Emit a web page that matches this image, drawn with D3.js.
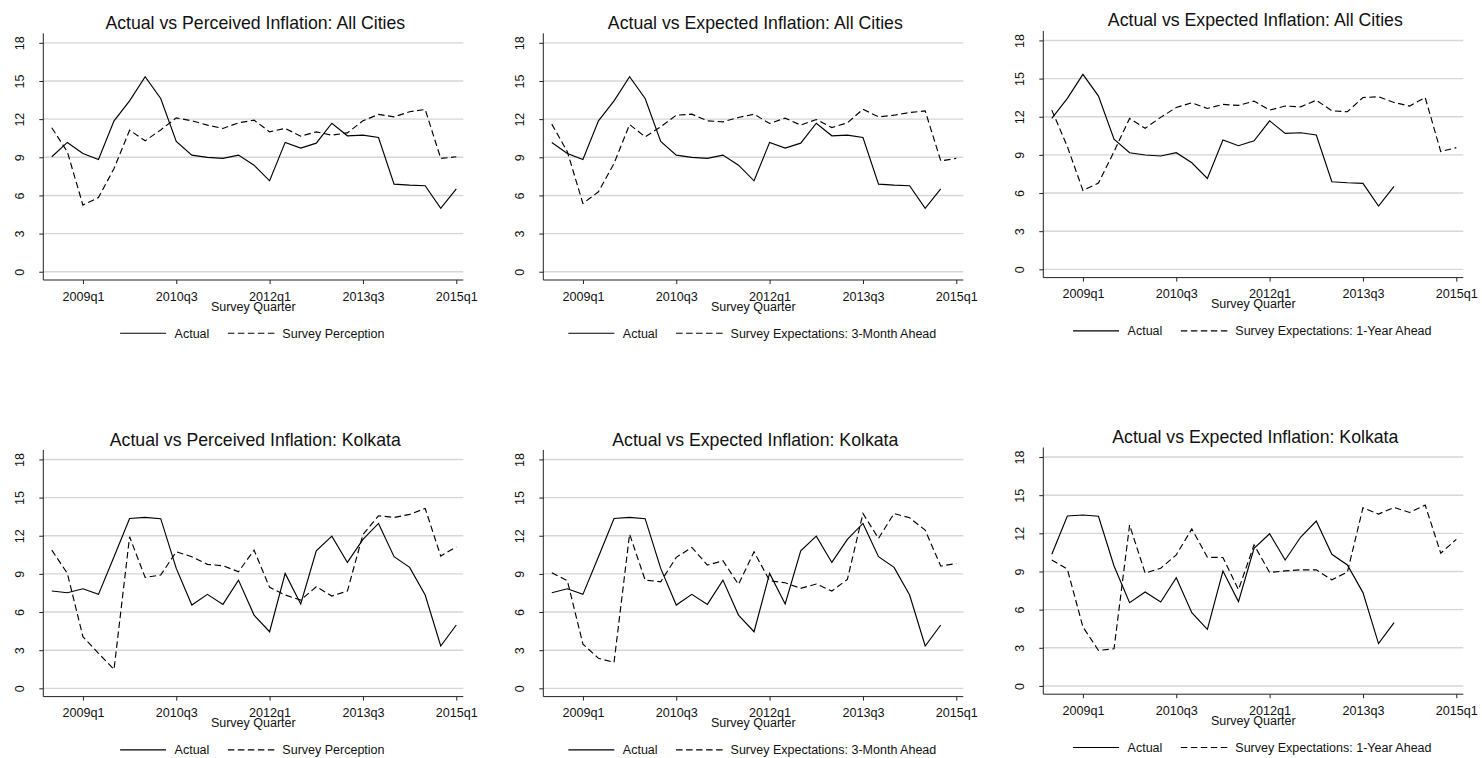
<!DOCTYPE html>
<html>
<head>
<meta charset="utf-8">
<script src="https://cdn.jsdelivr.net/npm/d3@7"></script>
<style>
  body { margin: 0; background: #fff; }
  svg { display: block; }
  text { font-family: "Liberation Sans", Arial, sans-serif; fill: #111; }
</style>
</head>
<body>
<script>
// quarters 2008q3 .. 2015q1
const quarters = ["2008q3","2008q4","2009q1","2009q2","2009q3","2009q4","2010q1","2010q2","2010q3","2010q4",
  "2011q1","2011q2","2011q3","2011q4","2012q1","2012q2","2012q3","2012q4","2013q1","2013q2",
  "2013q3","2013q4","2014q1","2014q2","2014q3","2014q4","2015q1"];
const tickLabels = ["2009q1", "2010q3", "2012q1", "2013q3", "2015q1"];
const yTicks = [0, 3, 6, 9, 12, 15, 18];

// all cities
const actualAll = [9.04, 10.17, 9.30, 8.83, 11.87, 13.44, 15.33, 13.62, 10.24, 9.17, 8.99, 8.91, 9.17, 8.38,
  7.15, 10.17, 9.72, 10.11, 11.68, 10.69, 10.74, 10.56, 6.89, 6.81, 6.76, 4.98, 6.52];
const perceivedAll = [11.32, 9.43, 5.24, 5.84, 8.12, 11.13, 10.30, 11.15, 12.10, 11.87, 11.53, 11.27, 11.71, 11.92,
  11.00, 11.27, 10.66, 11.00, 10.74, 10.92, 11.87, 12.37, 12.18, 12.58, 12.76, 8.91, 9.04];
const expect3mAll = [11.61, 9.43, 5.37, 6.29, 8.51, 11.58, 10.61, 11.40, 12.31, 12.39, 11.87, 11.79, 12.13, 12.39,
  11.66, 12.08, 11.53, 11.97, 11.34, 11.71, 12.78, 12.18, 12.31, 12.52, 12.65, 8.72, 8.91];
const expect1yAll = [12.52, 9.65, 6.21, 6.78, 9.26, 11.87, 11.09, 11.95, 12.73, 13.10, 12.65, 12.97, 12.89, 13.23,
  12.52, 12.84, 12.78, 13.30, 12.47, 12.39, 13.51, 13.57, 13.12, 12.84, 13.51, 9.26, 9.57];

// kolkata
const actualKol = [7.65, 7.52, 7.83, 7.39, 10.35, 13.36, 13.44, 13.34, 9.43, 6.55, 7.39, 6.60, 8.51, 5.76,
  4.45, 9.04, 6.63, 10.82, 11.97, 9.90, 11.71, 12.97, 10.35, 9.51, 7.34, 3.33, 4.98];
const perceivedKol = [10.87, 9.04, 4.06, 2.75, 1.49, 11.92, 8.72, 8.91, 10.74, 10.35, 9.75, 9.64, 9.17, 10.87,
  7.94, 7.34, 6.94, 7.99, 7.26, 7.65, 12.10, 13.57, 13.44, 13.68, 14.15, 10.40, 11.13];
const expect3mKol = [9.09, 8.46, 3.48, 2.36, 2.04, 12.13, 8.51, 8.38, 10.30, 11.08, 9.69, 10.03, 8.17, 10.74,
  8.46, 8.30, 7.86, 8.20, 7.65, 8.57, 13.75, 11.79, 13.75, 13.41, 12.44, 9.61, 9.82];
const expect1yKol = [9.91, 9.18, 4.64, 2.79, 2.92, 12.65, 8.87, 9.26, 10.31, 12.34, 10.12, 10.10, 7.57, 11.09,
  8.92, 9.05, 9.13, 9.13, 8.35, 8.95, 14.01, 13.51, 14.04, 13.64, 14.22, 10.44, 11.53];

// actual is plotted against the survey quarter, lead = how many quarters ahead the survey looks
const panels = [
  { title: "Actual vs Perceived Inflation: All Cities", actual: actualAll, lead: 0, survey: perceivedAll, label: "Survey Perception" },
  { title: "Actual vs Expected Inflation: All Cities", actual: actualAll, lead: 1, survey: expect3mAll, label: "Survey Expectations: 3-Month Ahead" },
  { title: "Actual vs Expected Inflation: All Cities", actual: actualAll, lead: 4, survey: expect1yAll, label: "Survey Expectations: 1-Year Ahead" },
  { title: "Actual vs Perceived Inflation: Kolkata", actual: actualKol, lead: 0, survey: perceivedKol, label: "Survey Perception" },
  { title: "Actual vs Expected Inflation: Kolkata", actual: actualKol, lead: 1, survey: expect3mKol, label: "Survey Expectations: 3-Month Ahead" },
  { title: "Actual vs Expected Inflation: Kolkata", actual: actualKol, lead: 4, survey: expect1yKol, label: "Survey Expectations: 1-Year Ahead" }
];

const W = 1482, H = 758;
const svg = d3.select("body").append("svg").attr("width", W).attr("height", H);

const plotW = 420;
const dash = "6.5,3.5";

panels.forEach((p, i) => {
  const col = i % 3, row = Math.floor(i / 3);
  const L = 43.3 + col * 500;
  const dy = row * 416.6 + (col === 2 ? -2.4 : 0);
  const bottom = 280 + dy, top = 33.3 + dy;

  const g = svg.append("g");

  const x = d3.scalePoint().domain(quarters).range([L + 8.5, L + 413.0]);
  const y = d3.scaleLinear().domain([-0.65, 18.75]).range([bottom, top]);

  // gridlines
  g.append("g").selectAll("line").data(yTicks).join("line")
    .attr("x1", L).attr("x2", L + plotW)
    .attr("y1", d => y(d)).attr("y2", d => y(d))
    .attr("stroke", "#d6d6d6").attr("stroke-width", 1.4);

  // y axis
  const ya = g.append("g").attr("transform", `translate(${L},0)`)
    .call(d3.axisLeft(y).tickValues(yTicks).tickSize(4).tickSizeOuter(0));
  ya.select(".domain").remove();
  ya.selectAll(".tick line").attr("stroke", "#222");
  ya.selectAll(".tick text")
    .attr("x", 0).attr("dy", 0).attr("y", 0)
    .attr("text-anchor", "middle")
    .attr("transform", "translate(-19,0) rotate(-90)")
    .style("font-size", "12.5px");
  g.append("line").attr("x1", L).attr("x2", L).attr("y1", top).attr("y2", bottom)
    .attr("stroke", "#222").attr("stroke-width", 1);

  // x axis
  const xa = g.append("g").attr("transform", `translate(0,${bottom})`)
    .call(d3.axisBottom(x).tickValues(tickLabels).tickSize(4).tickSizeOuter(0));
  xa.select(".domain").remove();
  xa.selectAll(".tick line").attr("stroke", "#222");
  xa.selectAll(".tick text").attr("dy", 0).attr("y", 20.5).style("font-size", "12.6px");
  g.append("line").attr("x1", L).attr("x2", L + plotW).attr("y1", bottom).attr("y2", bottom)
    .attr("stroke", "#222").attr("stroke-width", 1);

  g.append("text").attr("x", L + plotW / 2).attr("y", bottom + 30.5)
    .attr("text-anchor", "middle").style("font-size", "12.5px").text("Survey Quarter");

  // title
  g.append("text").attr("x", L + plotW / 2 + 2).attr("y", 29.3 + dy - (col === 2 ? 0.8 : 0))
    .attr("text-anchor", "middle").style("font-size", "17.7px").text(p.title);

  // series
  const actualPts = p.actual.slice(p.lead).map((v, k) => [quarters[k], v]);
  const surveyPts = p.survey.map((v, k) => [quarters[k], v]);
  const line = d3.line().x(d => x(d[0])).y(d => y(d[1]));

  g.append("path").datum(actualPts).attr("d", line)
    .attr("fill", "none").attr("stroke", "#000").attr("stroke-width", 1.15);
  g.append("path").datum(surveyPts).attr("d", line)
    .attr("fill", "none").attr("stroke", "#000").attr("stroke-width", 1.15)
    .attr("stroke-dasharray", dash);

  // legend
  const lg = g.append("g");
  const ly = bottom + 53.3;
  let cx = 0;
  lg.append("line").attr("x1", cx).attr("x2", cx + 46).attr("y1", 0).attr("y2", 0)
    .attr("stroke", "#000").attr("stroke-width", 1.1);
  cx += 46 + 8.5;
  const t1 = lg.append("text").attr("x", cx).attr("y", 4.4).style("font-size", "12.5px").text("Actual");
  cx += t1.node().getComputedTextLength() + 18.5;
  lg.append("line").attr("x1", cx).attr("x2", cx + 47).attr("y1", 0).attr("y2", 0)
    .attr("stroke", "#000").attr("stroke-width", 1.1).attr("stroke-dasharray", dash);
  cx += 47 + 7.5;
  const t2 = lg.append("text").attr("x", cx).attr("y", 4.4).style("font-size", "12.5px").text(p.label);
  cx += t2.node().getComputedTextLength();
  lg.attr("transform", `translate(${L + plotW / 2 - cx / 2 - 1},${ly})`);
});
</script>
</body>
</html>
